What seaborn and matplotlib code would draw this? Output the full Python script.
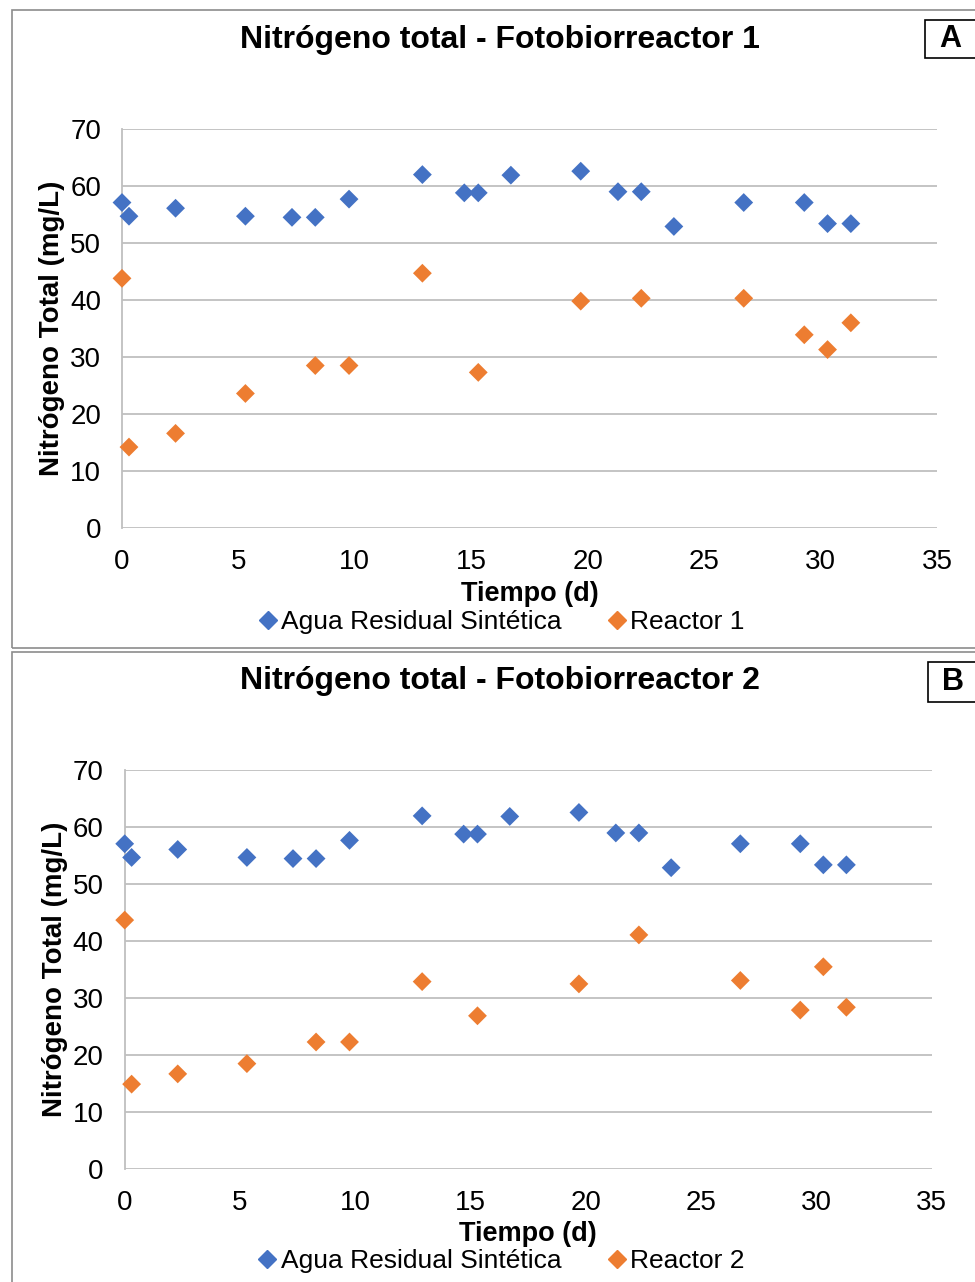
import matplotlib
matplotlib.use("Agg")
import matplotlib.pyplot as plt
import seaborn as sns
import pandas as pd
from matplotlib.lines import Line2D
from matplotlib.patches import Rectangle

# ---------------- data ----------------
dias_asr = [0, 0.3, 2.3, 5.3, 7.3, 8.3, 9.75, 12.9, 14.7, 15.3, 16.7, 19.7, 21.3, 22.3, 23.7, 26.7, 29.3, 30.3, 31.3]
asr_vals = [57.1, 54.7, 56.1, 54.7, 54.5, 54.5, 57.7, 62.0, 58.8, 58.8, 61.9, 62.6, 59.0, 59.0, 52.9, 57.1, 57.1, 53.4, 53.4]

dias_r1 = [0, 0.3, 2.3, 5.3, 8.3, 9.75, 12.9, 15.3, 19.7, 22.3, 26.7, 29.3, 30.3, 31.3]
r1_vals = [43.8, 14.2, 16.6, 23.6, 28.5, 28.5, 44.7, 27.3, 39.8, 40.3, 40.3, 33.9, 31.3, 36.0]

dias_r2 = [0, 0.3, 2.3, 5.3, 8.3, 9.75, 12.9, 15.3, 19.7, 22.3, 26.7, 29.3, 30.3, 31.3]
r2_vals = [43.7, 14.9, 16.7, 18.5, 22.3, 22.3, 32.9, 26.9, 32.5, 41.1, 33.1, 27.9, 35.5, 28.4]

x_ticks = [0, 5, 10, 15, 20, 25, 30, 35]
y_ticks = [0, 10, 20, 30, 40, 50, 60, 70]

titles = ["Nitrógeno total - Fotobiorreactor 1", "Nitrógeno total - Fotobiorreactor 2"]
serie_asr = "Agua Residual Sintética"
series_r = ["Reactor 1", "Reactor 2"]
letras = ["A", "B"]
xlabel = "Tiempo (d)"
ylabel = "Nitrógeno Total (mg/L)"

BLUE = "#4472C4"
ORANGE = "#ED7D31"

sns.set_theme(style="white")
plt.rcParams["font.family"] = ["Liberation Sans", "DejaVu Sans"]
plt.rcParams["text.color"] = "black"
plt.rcParams["axes.labelcolor"] = "black"

W, H = 975, 1282
fig = plt.figure(figsize=(W / 100, H / 100), dpi=100)

def fx(px):
    return px / W

def fy(py):
    return 1 - py / H

# axes rectangles (pixels: left, top, right, bottom)
ax_px = [(122, 129, 937, 528), (124.7, 770.3, 931.7, 1169)]
panel_px = [(12, 10, 1000, 648), (12, 652, 1000, 1300)]
title_y = [40, 681]
xlabel_y = [594, 1234]
ylabel_x = [52, 55]
legend_y = [622, 1261]
letter_box = [(925, 20, 985, 58), (928, 662, 985, 702)]

for i in range(2):
    # panel border
    l, t, r, b = panel_px[i]
    fig.patches.append(Rectangle((fx(l), fy(b)), fx(r - l), (b - t) / H,
                                 transform=fig.transFigure, fill=False,
                                 edgecolor="#8c8c8c", linewidth=1.2, zorder=0))
    l, t, r, b = ax_px[i]
    ax = fig.add_axes([fx(l), fy(b), fx(r - l), (b - t) / H])

    df = pd.DataFrame({
        "dia": dias_asr + (dias_r1 if i == 0 else dias_r2),
        "val": asr_vals + (r1_vals if i == 0 else r2_vals),
        "serie": [serie_asr] * len(dias_asr) + [series_r[i]] * len(dias_r1 if i == 0 else dias_r2),
    })
    sns.scatterplot(data=df, x="dia", y="val", hue="serie",
                    palette={serie_asr: BLUE, series_r[i]: ORANGE},
                    marker="D", s=92, linewidth=0, ax=ax, legend=False, zorder=3,
                    clip_on=False)

    ax.set_xlim(0, 35)
    ax.set_ylim(0, 70)
    ax.set_xticks(x_ticks)
    ax.set_yticks(y_ticks)
    ax.set_xticklabels([str(v) for v in x_ticks], fontsize=20)
    ax.set_yticklabels([str(v) for v in y_ticks], fontsize=20)
    ax.tick_params(axis="x", length=0, pad=15, colors="black")
    ax.tick_params(axis="y", length=0, pad=15, colors="black")
    ax.grid(axis="y", color="#bfbfbf", linewidth=1.3)
    ax.grid(axis="x", visible=False)
    ax.set_axisbelow(True)
    for s in ["top", "right", "bottom"]:
        ax.spines[s].set_visible(False)
    ax.spines["left"].set_color("#bfbfbf")
    ax.spines["left"].set_linewidth(1.3)
    ax.set_xlabel("")
    ax.set_ylabel(ylabel, fontsize=20, fontweight="bold")
    ax.yaxis.set_label_coords(-(l - ylabel_x[i]) / (r - l), 0.5)
    ax.yaxis.label.set_va("center")

    fig.text(fx(500), fy(title_y[i]), titles[i], ha="center", va="center",
             fontsize=23, fontweight="bold")
    fig.text(fx((l + r) / 2), fy(xlabel_y[i]), xlabel, ha="center", va="center",
             fontsize=19.5, fontweight="bold")

    handles = [Line2D([], [], marker="D", linestyle="none", color=BLUE, markersize=9),
               Line2D([], [], marker="D", linestyle="none", color=ORANGE, markersize=9)]
    fig.legend(handles, [serie_asr, series_r[i]], loc="center",
               bbox_to_anchor=(fx(502), fy(legend_y[i])), ncol=2, frameon=False,
               fontsize=19, handlelength=0.6, handletextpad=0.2, columnspacing=1.8,
               borderpad=0)

    # letter box
    bl, bt, br, bb = letter_box[i]
    fig.patches.append(Rectangle((fx(bl), fy(bb)), fx(br - bl), (bb - bt) / H,
                                 transform=fig.transFigure, fill=True, facecolor="white",
                                 edgecolor="black", linewidth=1.2, zorder=1))
    fig.text(fx(bl + 25), fy((bt + bb) / 2), letras[i], ha="center", va="center",
             fontsize=22, fontweight="bold")

fig.savefig("out.png", dpi=100)
